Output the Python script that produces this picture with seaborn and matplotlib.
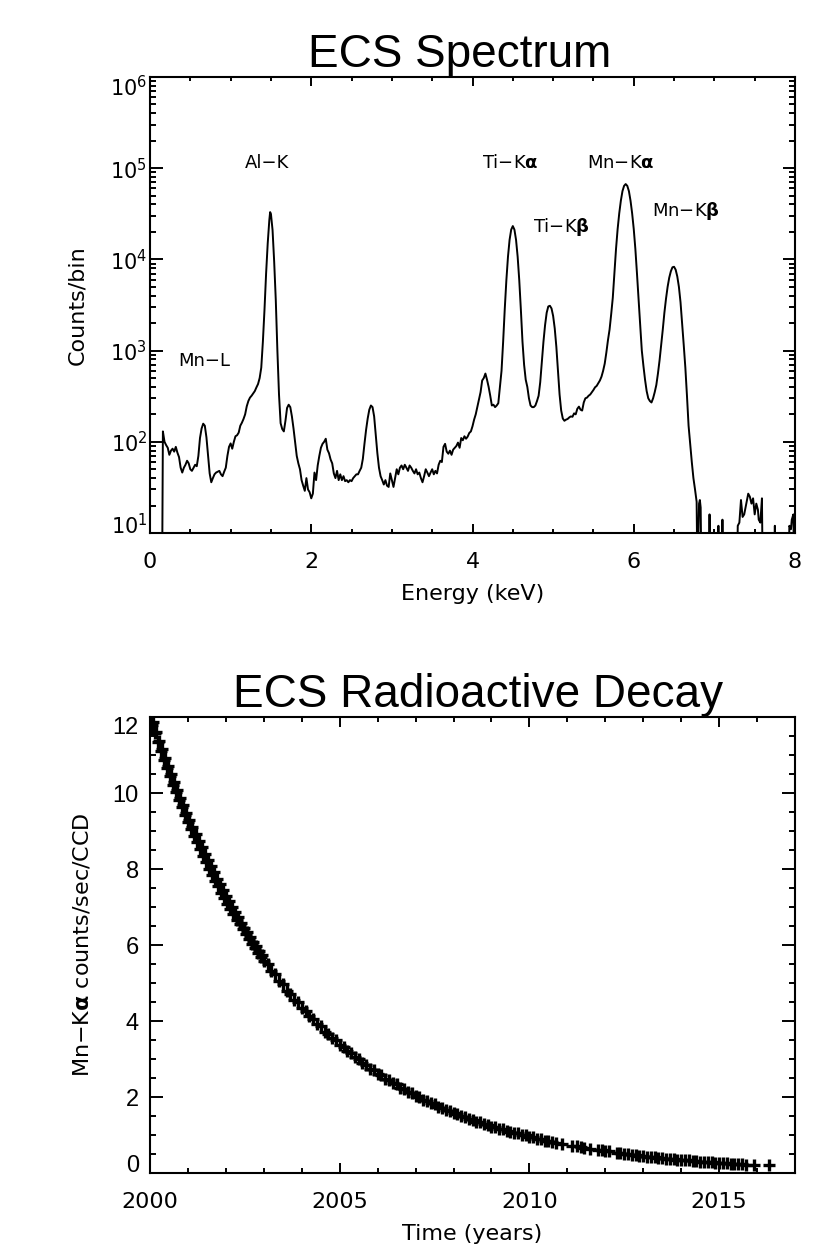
import matplotlib
matplotlib.use("Agg")
from matplotlib import pyplot as plt
from matplotlib.ticker import MultipleLocator, LogLocator, NullFormatter
from matplotlib.transforms import ScaledTranslation
import seaborn as sns

# ECS spectrum (keV, counts/bin); values < 10 fall below the axis
energy_kev = [
    0.02, 0.15, 0.16, 0.18, 0.20, 0.22, 0.24, 0.26, 0.28, 0.30,
    0.32, 0.34, 0.36, 0.38, 0.40, 0.42, 0.44, 0.46, 0.48, 0.50,
    0.52, 0.54, 0.56, 0.58, 0.60, 0.62, 0.64, 0.66, 0.68, 0.70,
    0.72, 0.74, 0.76, 0.78, 0.80, 0.82, 0.84, 0.86, 0.88, 0.90,
    0.92, 0.94, 0.96, 0.98, 1.00, 1.02, 1.04, 1.06, 1.08, 1.10,
    1.12, 1.14, 1.16, 1.18, 1.20, 1.22, 1.24, 1.26, 1.28, 1.30,
    1.32, 1.34, 1.36, 1.38, 1.40, 1.42, 1.44, 1.46, 1.48, 1.49,
    1.50, 1.52, 1.54, 1.56, 1.58, 1.60, 1.62, 1.64, 1.66, 1.68,
    1.70, 1.72, 1.74, 1.76, 1.78, 1.80, 1.82, 1.84, 1.86, 1.88,
    1.90, 1.92, 1.94, 1.96, 1.98, 2.00, 2.02, 2.04, 2.06, 2.08,
    2.10, 2.12, 2.14, 2.16, 2.18, 2.20, 2.22, 2.24, 2.26, 2.28,
    2.30, 2.32, 2.34, 2.36, 2.38, 2.40, 2.42, 2.44, 2.46, 2.48,
    2.50, 2.52, 2.54, 2.56, 2.58, 2.60, 2.62, 2.64, 2.66, 2.68,
    2.70, 2.72, 2.74, 2.76, 2.78, 2.80, 2.82, 2.84, 2.86, 2.88,
    2.90, 2.92, 2.94, 2.96, 2.98, 3.00, 3.02, 3.04, 3.06, 3.08,
    3.10, 3.12, 3.14, 3.16, 3.18, 3.20, 3.22, 3.24, 3.26, 3.28,
    3.30, 3.32, 3.34, 3.36, 3.38, 3.40, 3.42, 3.44, 3.46, 3.48,
    3.50, 3.52, 3.54, 3.56, 3.58, 3.60, 3.62, 3.64, 3.66, 3.68,
    3.70, 3.72, 3.74, 3.76, 3.78, 3.80, 3.82, 3.84, 3.86, 3.88,
    3.90, 3.92, 3.94, 3.96, 3.98, 4.00, 4.02, 4.04, 4.06, 4.08,
    4.10, 4.12, 4.14, 4.16, 4.18, 4.20, 4.22, 4.24, 4.26, 4.28,
    4.30, 4.32, 4.34, 4.36, 4.38, 4.40, 4.42, 4.44, 4.46, 4.48,
    4.50, 4.52, 4.54, 4.56, 4.58, 4.60, 4.62, 4.64, 4.66, 4.68,
    4.70, 4.72, 4.74, 4.76, 4.78, 4.80, 4.82, 4.84, 4.86, 4.88,
    4.90, 4.92, 4.94, 4.96, 4.98, 5.00, 5.02, 5.04, 5.06, 5.08,
    5.10, 5.12, 5.14, 5.16, 5.18, 5.20, 5.22, 5.24, 5.26, 5.28,
    5.30, 5.32, 5.34, 5.36, 5.38, 5.40, 5.42, 5.44, 5.46, 5.48,
    5.50, 5.52, 5.54, 5.56, 5.58, 5.60, 5.62, 5.64, 5.66, 5.68,
    5.70, 5.72, 5.74, 5.76, 5.78, 5.80, 5.82, 5.84, 5.86, 5.88,
    5.90, 5.92, 5.94, 5.96, 5.98, 6.00, 6.02, 6.04, 6.06, 6.08,
    6.10, 6.12, 6.14, 6.16, 6.18, 6.20, 6.22, 6.24, 6.26, 6.28,
    6.30, 6.32, 6.34, 6.36, 6.38, 6.40, 6.42, 6.44, 6.46, 6.48,
    6.50, 6.52, 6.54, 6.56, 6.58, 6.60, 6.62, 6.64, 6.66, 6.68,
    6.70, 6.72, 6.74, 6.76, 6.78, 6.79, 6.81, 6.82, 6.83, 6.84,
    6.93, 6.94, 6.95, 7.04, 7.05, 7.06, 7.09, 7.10, 7.11, 7.28,
    7.29, 7.31, 7.33, 7.35, 7.37, 7.40, 7.42, 7.44, 7.46, 7.48,
    7.50, 7.52, 7.54, 7.55, 7.57, 7.59, 7.60, 7.74, 7.75, 7.76,
    7.92, 7.93, 7.95, 7.96, 7.98, 7.99,
]
counts_per_bin = [
    3, 3, 130, 100, 92, 86, 72, 80, 84, 78,
    88, 76, 68, 52, 46, 52, 56, 62, 58, 50,
    48, 52, 56, 54, 70, 110, 140, 158, 150, 112,
    70, 45, 36, 40, 44, 46, 47, 48, 44, 42,
    47, 52, 70, 88, 96, 84, 100, 115, 118, 126,
    150, 162, 178, 200, 245, 280, 305, 320, 340, 360,
    395, 430, 500, 650, 1250, 2800, 7000, 15000, 27000, 33000,
    31500, 21000, 9500, 3600, 1000, 330, 160, 138, 130, 170,
    235, 255, 240, 190, 140, 100, 70, 58, 50, 38,
    33, 29, 40, 30, 28, 24, 27, 46, 38, 55,
    70, 86, 95, 100, 108, 82, 75, 64, 58, 45,
    40, 48, 38, 44, 38, 42, 37, 38, 36, 38,
    37, 40, 42, 44, 44, 48, 52, 65, 95, 135,
    180, 225, 250, 240, 190, 120, 75, 52, 42, 38,
    34, 38, 33, 32, 45, 38, 32, 40, 50, 44,
    52, 55, 50, 56, 52, 48, 55, 52, 48, 45,
    50, 44, 46, 40, 36, 42, 50, 46, 42, 46,
    50, 44, 48, 45, 56, 62, 60, 88, 95, 78,
    74, 80, 72, 82, 86, 90, 98, 86, 110, 104,
    115, 108, 114, 125, 130, 148, 175, 200, 240, 285,
    350, 470, 500, 560, 480, 400, 320, 250, 255, 240,
    250, 265, 400, 600, 1250, 2850, 5900, 10700, 16400, 21200,
    23200, 21200, 16400, 10700, 5900, 2800, 1250, 700, 480, 400,
    300, 250, 240, 240, 250, 280, 320, 450, 740, 1250,
    1900, 2600, 3050, 3100, 2900, 2400, 1750, 1100, 600, 330,
    220, 180, 170, 175, 178, 185, 190, 188, 205, 200,
    230, 243, 225, 220, 270, 300, 305, 320, 330, 350,
    370, 396, 410, 440, 470, 518, 600, 720, 950, 1300,
    1700, 2500, 3800, 7000, 13000, 21500, 32000, 44000, 56000, 64000,
    67000, 64000, 56000, 44000, 32000, 21500, 13000, 7000, 3600, 1900,
    1000, 680, 480, 360, 300, 280, 270, 300, 350, 420,
    560, 780, 1150, 1700, 2600, 3700, 5000, 6300, 7400, 8200,
    8300, 7700, 6500, 5000, 3400, 2000, 1150, 650, 320, 150,
    95, 60, 40, 30, 22, 3, 21, 23, 19, 3,
    3, 16, 3, 3, 12, 3, 3, 14, 3, 3,
    12, 13, 23, 15, 16, 22, 27, 25, 21, 24,
    16, 21, 18, 14, 13, 24, 3, 3, 12, 3,
    3, 12, 11, 14, 16, 3,
]

# line identifications: text, left edge (keV), baseline (counts)
line_names = ["Mn−L", "Al−K", r"Ti−K$\mathbf{\alpha}$", r"Mn−K$\mathbf{\alpha}$",
              r"Ti−K$\mathbf{\beta}$", r"Mn−K$\mathbf{\beta}$"]
line_x = [0.35, 1.18, 4.12, 5.42, 4.75, 6.23]
line_y = [680, 1.0e5, 1.0e5, 1.0e5, 2.0e4, 3.0e4]

# Mn-K alpha count rate of the calibration source (years, counts/sec/CCD)
year_early = [
    2000.00, 2000.04, 2000.08, 2000.12, 2000.16, 2000.20, 2000.24, 2000.28, 2000.32, 2000.36,
    2000.40, 2000.44, 2000.48, 2000.52, 2000.56, 2000.60, 2000.64, 2000.68, 2000.72, 2000.76,
    2000.80, 2000.84, 2000.88, 2000.92, 2000.96, 2001.00, 2001.04, 2001.08, 2001.12, 2001.16,
    2001.20, 2001.24, 2001.28, 2001.32, 2001.36, 2001.40, 2001.44, 2001.48, 2001.52, 2001.56,
    2001.60, 2001.64, 2001.68, 2001.72, 2001.76, 2001.80, 2001.84, 2001.88, 2001.92, 2001.96,
    2002.00, 2002.04, 2002.08, 2002.12, 2002.16, 2002.20, 2002.24, 2002.28, 2002.32, 2002.36,
    2002.40, 2002.44, 2002.48, 2002.52, 2002.56, 2002.60, 2002.64, 2002.68, 2002.72, 2002.76,
    2002.80, 2002.84, 2002.88, 2002.92, 2002.96, 2003.00,
]
rate_early = [
    12.05, 11.80, 11.86, 11.58, 11.60, 11.33, 11.38, 11.10, 11.15, 10.86,
    10.92, 10.65, 10.70, 10.44, 10.50, 10.22, 10.28, 10.02, 10.08, 9.82,
    9.88, 9.62, 9.68, 9.43, 9.48, 9.24, 9.30, 9.05, 9.11, 8.88,
    8.93, 8.70, 8.75, 8.52, 8.57, 8.35, 8.40, 8.18, 8.24, 8.01,
    8.07, 7.85, 7.91, 7.69, 7.75, 7.54, 7.60, 7.38, 7.45, 7.24,
    7.30, 7.09, 7.15, 6.95, 7.01, 6.81, 6.86, 6.67, 6.73, 6.54,
    6.59, 6.41, 6.46, 6.28, 6.34, 6.15, 6.21, 6.03, 6.09, 5.91,
    5.97, 5.80, 5.85, 5.68, 5.74, 5.57,
]
year_mid = [
    2003.1, 2003.2, 2003.3, 2003.4, 2003.5, 2003.6, 2003.7, 2003.8, 2003.9, 2004.0,
    2004.1, 2004.2, 2004.3, 2004.4, 2004.5, 2004.6, 2004.7, 2004.8, 2004.9, 2005.0,
    2005.1, 2005.2, 2005.3, 2005.4, 2005.5, 2005.6, 2005.7, 2005.8, 2005.9, 2006.0,
    2006.1, 2006.2, 2006.3, 2006.4, 2006.5, 2006.6, 2006.7, 2006.8, 2006.9, 2007.0,
    2007.1, 2007.2, 2007.3, 2007.4, 2007.5, 2007.6, 2007.7, 2007.8, 2007.9, 2008.0,
    2008.1, 2008.2, 2008.3, 2008.4, 2008.5, 2008.6, 2008.7, 2008.8, 2008.9, 2009.0,
    2009.1, 2009.2, 2009.3, 2009.4, 2009.5, 2009.6, 2009.7, 2009.8, 2009.9, 2010.0,
]
rate_mid = [
    5.50, 5.31, 5.23, 5.05, 4.97, 4.80, 4.72, 4.56, 4.49, 4.34,
    4.27, 4.12, 4.06, 3.92, 3.86, 3.72, 3.67, 3.54, 3.49, 3.36,
    3.32, 3.20, 3.16, 3.04, 3.00, 2.89, 2.85, 2.74, 2.71, 2.61,
    2.58, 2.48, 2.45, 2.36, 2.33, 2.24, 2.22, 2.13, 2.11, 2.03,
    2.00, 1.93, 1.90, 1.83, 1.81, 1.74, 1.72, 1.65, 1.63, 1.57,
    1.55, 1.49, 1.48, 1.42, 1.40, 1.35, 1.34, 1.28, 1.27, 1.22,
    1.21, 1.16, 1.15, 1.10, 1.09, 1.04, 1.04, 0.99, 0.99, 0.94,
]
year_late = [
    2010.1, 2010.2, 2010.3, 2010.4, 2010.5, 2010.6, 2010.7, 2010.87, 2011.13, 2011.25,
    2011.35, 2011.45, 2011.6, 2011.8, 2011.9, 2012.0, 2012.1, 2012.3, 2012.4, 2012.5,
    2012.6, 2012.7, 2012.8, 2012.9, 2013.0, 2013.1, 2013.2, 2013.3, 2013.4, 2013.5,
    2013.6, 2013.7, 2013.8, 2013.9, 2014.0, 2014.1, 2014.2, 2014.3, 2014.4, 2014.5,
    2014.6, 2014.7, 2014.8, 2014.9, 2015.0, 2015.1, 2015.2, 2015.3, 2015.4, 2015.5,
    2015.6, 2015.7, 2015.92, 2016.32,
]
rate_late = [
    0.94, 0.90, 0.89, 0.85, 0.84, 0.81, 0.80, 0.76, 0.72, 0.70,
    0.69, 0.66, 0.64, 0.61, 0.60, 0.57, 0.57, 0.53, 0.53, 0.50,
    0.50, 0.48, 0.47, 0.45, 0.45, 0.43, 0.43, 0.41, 0.40, 0.39,
    0.38, 0.37, 0.37, 0.35, 0.35, 0.33, 0.33, 0.32, 0.31, 0.30,
    0.30, 0.29, 0.28, 0.27, 0.27, 0.26, 0.26, 0.25, 0.24, 0.24,
    0.23, 0.22, 0.21, 0.20,
]

W, H = 824, 1245
TITLE_FONT = "Liberation Sans"


def _box_ticks(ax, major_len, minor_len, xlen=None, xminor=None):
    ax.tick_params(which="both", direction="in", top=True, right=True,
                   width=1.4, colors="black")
    ax.tick_params(axis="y", which="major", length=major_len)
    ax.tick_params(axis="y", which="minor", length=minor_len)
    ax.tick_params(axis="x", which="major", length=xlen or major_len)
    ax.tick_params(axis="x", which="minor", length=xminor or minor_len)
    for s in ax.spines.values():
        s.set_visible(True)
        s.set_linewidth(1.5)
        s.set_color("black")


def _nudge_end_labels(fig, ax, lo, hi, dy_px=9):
    # IDL keeps the end labels inside the box: bottom one up, top one down
    for tick in ax.yaxis.get_major_ticks():
        loc = tick.get_loc()
        if abs(loc - lo) < 1e-9 * max(1, abs(lo)):
            off = ScaledTranslation(0, dy_px / 100, fig.dpi_scale_trans)
        elif abs(loc - hi) < 1e-9 * max(1, abs(hi)):
            off = ScaledTranslation(0, -dy_px / 100, fig.dpi_scale_trans)
        else:
            continue
        tick.label1.set_transform(tick.label1.get_transform() + off)


def _spectrum(ax):
    sns.lineplot(x=energy_kev, y=counts_per_bin, ax=ax, color="black",
                 lw=1.4, estimator=None, sort=False)
    ax.set_yscale("log")
    ax.set_xlim(0, 8)
    ax.set_ylim(10, 1e6)
    ax.xaxis.set_major_locator(MultipleLocator(2))
    ax.xaxis.set_minor_locator(MultipleLocator(0.5))
    ax.yaxis.set_major_locator(LogLocator(base=10, numticks=10))
    ax.yaxis.set_minor_locator(LogLocator(base=10, subs=range(2, 10), numticks=20))
    ax.yaxis.set_minor_formatter(NullFormatter())
    _box_ticks(ax, 9, 4.5, xlen=6.5, xminor=3.2)
    ax.tick_params(axis="x", labelsize=16, pad=14)
    ax.tick_params(axis="y", labelsize=15, pad=2)

    for name, x, y in zip(line_names, line_x, line_y):
        ax.text(x, y, name, fontsize=13, ha="left", va="baseline")

    ax.set_title("ECS Spectrum", fontfamily=TITLE_FONT, fontsize=33, pad=7, x=0.48)
    ax.set_xlabel("Energy (keV)", fontsize=16)
    ax.set_ylabel("Counts/bin", fontsize=16)
    ax.xaxis.set_label_coords(0.5, (533 - 584) / 456)
    ax.yaxis.set_label_coords((87 - 150) / 645, 0.5)


def _decay(ax):
    years = year_early + year_mid + year_late
    rates = rate_early + rate_mid + rate_late
    sns.scatterplot(x=years, y=rates, ax=ax, marker="+", s=85,
                    color="black", linewidth=2.4)
    ax.set_xlim(2000, 2017)
    ax.set_ylim(0, 12)
    ax.xaxis.set_major_locator(MultipleLocator(5))
    ax.xaxis.set_minor_locator(MultipleLocator(1))
    ax.yaxis.set_major_locator(MultipleLocator(2))
    ax.yaxis.set_minor_locator(MultipleLocator(0.5))
    _box_ticks(ax, 9.4, 4.3, xlen=7, xminor=3.5)
    ax.tick_params(axis="x", labelsize=16, pad=14)
    ax.tick_params(axis="y", labelsize=17, pad=8)

    ax.set_title("ECS Radioactive Decay", fontfamily=TITLE_FONT, fontsize=33,
                 pad=7, x=0.508)
    ax.set_xlabel("Time (years)", fontsize=16)
    ax.set_ylabel(r"Mn−K$\mathbf{\alpha}$ counts/sec/CCD", fontsize=16)
    ax.xaxis.set_label_coords(0.5, (1173 - 1224) / 456)
    ax.yaxis.set_label_coords((92 - 150) / 645, 0.5)


sns.set_theme(style="ticks", rc={"axes.edgecolor": "black", "text.color": "black",
                                 "axes.labelcolor": "black", "xtick.color": "black",
                                 "ytick.color": "black"})
plt.rcParams["font.family"] = ["DejaVu Sans"]
plt.rcParams["mathtext.fontset"] = "dejavusans"

fig = plt.figure(figsize=(W / 100, H / 100), dpi=100)
ax1 = fig.add_axes([150 / W, 1 - 533 / H, 645 / W, 456 / H])
ax2 = fig.add_axes([150 / W, 1 - 1173 / H, 645 / W, 456 / H])

_spectrum(ax1)
_decay(ax2)

fig.canvas.draw()
for lab in ax2.get_yticklabels():
    lab.set_fontfamily(TITLE_FONT)
_nudge_end_labels(fig, ax1, 10, 1e6, dy_px=9)
_nudge_end_labels(fig, ax2, 0, 12, dy_px=9)

fig.savefig("out.png", dpi=100)
